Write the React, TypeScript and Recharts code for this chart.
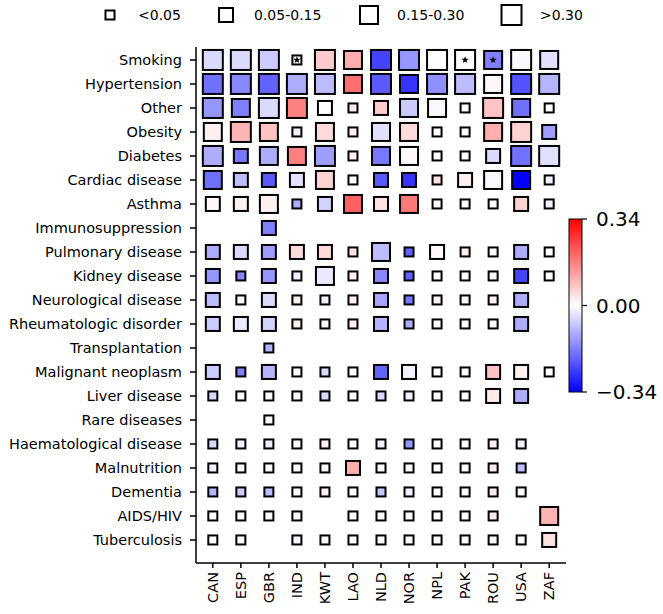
import React from "react";
import { ScatterChart, Scatter, XAxis, YAxis } from "recharts";

const countries = ["CAN", "ESP", "GBR", "IND", "KWT", "LAO", "NLD", "NOR", "NPL", "PAK", "ROU", "USA", "ZAF"];

const factors = [
  "Smoking", "Hypertension", "Other", "Obesity", "Diabetes", "Cardiac disease", "Asthma",
  "Immunosuppression", "Pulmonary disease", "Kidney disease", "Neurological disease",
  "Rheumatologic disorder", "Transplantation", "Malignant neoplasm", "Liver disease",
  "Rare diseases", "Haematological disease", "Malnutrition", "Dementia", "AIDS/HIV", "Tuberculosis",
];

const _ = null;

// colour value per factor (rows) and country (columns)
const values: (number | null)[][] = [
  [-0.05, -0.05, -0.07, 0, 0.07, 0.11, -0.25, -0.14, 0, 0, -0.17, -0.01, -0.04],
  [-0.19, -0.16, -0.21, -0.11, -0.09, 0.19, -0.22, -0.27, -0.15, -0.09, 0.01, -0.23, -0.1],
  [-0.14, -0.17, -0.05, 0.17, 0, 0.03, 0.07, -0.07, -0.01, 0, 0.08, -0.19, 0],
  [0.02, 0.1, 0.08, -0.02, 0.05, 0.02, -0.04, 0.05, 0, 0, 0.11, 0.06, -0.13],
  [-0.11, -0.18, -0.11, 0.17, -0.13, 0.02, -0.18, 0.01, 0, 0, -0.05, -0.19, -0.04],
  [-0.19, -0.09, -0.22, -0.04, 0.06, 0, -0.22, -0.27, 0.04, 0.02, -0.01, -0.34, -0.02],
  [0.01, 0.02, 0.02, -0.11, -0.06, 0.21, 0.04, 0.18, -0.01, 0, 0, 0.06, -0.02],
  [_, _, -0.17, _, _, _, _, _, _, _, _, _, _],
  [-0.11, -0.05, -0.13, 0.05, 0.05, 0.04, -0.09, -0.21, 0.01, 0.02, 0, -0.11, 0],
  [-0.14, -0.16, -0.14, -0.02, -0.03, 0.02, -0.16, -0.21, 0, 0, -0.01, -0.25, 0],
  [-0.09, -0.01, -0.05, 0.02, -0.02, 0.02, -0.12, -0.18, 0.02, -0.01, 0.02, -0.11, _],
  [-0.07, -0.03, -0.06, 0.02, 0.01, 0.02, -0.1, -0.11, 0.01, 0, 0.01, -0.11, _],
  [_, _, -0.1, _, _, _, _, _, _, _, _, _, _],
  [-0.07, -0.17, -0.1, 0, -0.05, 0, -0.21, -0.02, 0, 0, 0.08, 0.02, 0],
  [-0.05, 0, 0, 0, -0.05, 0, -0.05, -0.02, 0.01, 0, 0.03, -0.11, _],
  [_, _, 0.01, _, _, _, _, _, _, _, _, _, _],
  [-0.05, -0.02, -0.03, 0, 0.02, 0, -0.02, -0.14, 0, 0, 0.02, -0.02, _],
  [-0.02, 0.01, 0, 0, 0.01, 0.11, 0, 0, 0, 0, 0.03, -0.09, _],
  [-0.1, -0.07, -0.09, 0, 0.02, 0, -0.08, -0.02, 0, 0, 0.03, 0, _],
  [0, 0, 0, 0, _, 0, 0, 0, 0, 0, 0.03, _, 0.1],
  [0, 0, _, -0.01, 0.01, 0, 0, 0, -0.01, 0, -0.01, 0, 0.04],
];

// size class (index into sizeLabels) per cell
const sizeClass: number[][] = [
  [3, 3, 3, 0, 3, 2, 3, 3, 3, 3, 2, 3, 2],
  [3, 3, 3, 3, 3, 2, 3, 2, 3, 3, 2, 3, 3],
  [3, 2, 3, 3, 1, 0, 1, 2, 2, 0, 3, 2, 0],
  [2, 3, 2, 0, 2, 0, 2, 2, 0, 0, 2, 3, 1],
  [3, 1, 2, 2, 3, 0, 2, 2, 0, 0, 1, 3, 3],
  [2, 1, 1, 1, 2, 0, 1, 1, 0, 1, 2, 2, 0],
  [1, 1, 2, 0, 1, 2, 1, 2, 0, 0, 0, 1, 0],
  [0, 0, 1, 0, 0, 0, 0, 0, 0, 0, 0, 0, 0],
  [1, 1, 1, 1, 1, 0, 2, 0, 1, 0, 0, 1, 0],
  [1, 0, 1, 0, 2, 0, 1, 0, 0, 0, 0, 1, 0],
  [1, 0, 1, 0, 0, 0, 1, 0, 0, 0, 0, 1, 0],
  [1, 1, 1, 0, 0, 0, 1, 0, 0, 0, 0, 1, 0],
  [0, 0, 0, 0, 0, 0, 0, 0, 0, 0, 0, 0, 0],
  [1, 0, 1, 0, 0, 0, 1, 1, 0, 0, 1, 1, 0],
  [0, 0, 0, 0, 0, 0, 0, 0, 0, 0, 1, 1, 0],
  [0, 0, 0, 0, 0, 0, 0, 0, 0, 0, 0, 0, 0],
  [0, 0, 0, 0, 0, 0, 0, 0, 0, 0, 0, 0, 0],
  [0, 0, 0, 0, 0, 1, 0, 0, 0, 0, 0, 0, 0],
  [0, 0, 0, 0, 0, 0, 0, 0, 0, 0, 0, 0, 0],
  [0, 0, 0, 0, 0, 0, 0, 0, 0, 0, 0, 0, 2],
  [0, 0, 0, 0, 0, 0, 0, 0, 0, 0, 0, 0, 1],
];

const sizeLabels = ["<0.05", "0.05-0.15", "0.15-0.30", ">0.30"];
const starred = [["Smoking", "IND"], ["Smoking", "PAK"], ["Smoking", "ROU"]];
const vmax = 0.34;
const cbarTicks = [0.34, 0, -0.34];

const SIDES = [11, 16, 20, 22];
const FONT = "DejaVu Sans, sans-serif";

function bwr(v: number) {
  const t = Math.max(-1, Math.min(1, v / vmax));
  const r = t < 0 ? Math.round(255 * (1 + t)) : 255;
  const b = t > 0 ? Math.round(255 * (1 - t)) : 255;
  const g = Math.round(255 * (1 - Math.abs(t)));
  return `rgb(${r},${g},${b})`;
}

const cells = values.flatMap((row, ri) =>
  row.flatMap((v, ci) => (v === null ? [] : [{ x: ci, y: ri, v, s: sizeClass[ri][ci] }]))
);

const stars = starred.map(([f, c]) => ({ x: countries.indexOf(c), y: factors.indexOf(f) }));

function CellShape(props: any) {
  const { cx, cy, payload } = props;
  const side = SIDES[payload.s];
  return (
    <rect x={cx - side / 2 + 1} y={cy - side / 2 + 1} width={side - 2} height={side - 2}
      fill={bwr(payload.v)} stroke="#000" strokeWidth={2} />
  );
}

function StarShape(props: any) {
  const { cx, cy } = props;
  const pts: string[] = [];
  for (let i = 0; i < 10; i++) {
    const r = i % 2 === 0 ? 3.8 : 1.6;
    const a = -Math.PI / 2 + (i * Math.PI) / 5;
    pts.push(`${cx + r * Math.cos(a)},${cy + r * Math.sin(a)}`);
  }
  return <polygon points={pts.join(" ")} fill="#000" />;
}

function XTick(props: any) {
  const { x, y, payload } = props;
  return (
    <text x={x} y={y} transform={`rotate(-90 ${x} ${y})`} textAnchor="end" dominantBaseline="central"
      fontSize={14.5} fontFamily={FONT} fill="#000">
      {countries[payload.value]}
    </text>
  );
}

const axisStroke = { stroke: "#000", strokeWidth: 1.5 };

export default function App() {
  const legendX = [110, 226, 369, 511.5];
  const labelX = [138, 254, 397, 540];
  const cbTop = 219, cbBottom = 392;
  const oy = 190; // top of the colorbar overlay
  return (
    <div style={{ position: "absolute", left: 0, top: 0, width: 663, height: 614, background: "#fff" }}>
      <ScatterChart width={663} height={614} margin={{ top: 47, right: 97, bottom: 0, left: 0 }}>
        <XAxis type="number" dataKey="x" domain={[-0.6, 12.6]} ticks={countries.map((_, i) => i)}
          interval={0} height={51} tick={<XTick />} tickSize={5} tickMargin={4}
          axisLine={axisStroke} tickLine={axisStroke} allowDataOverflow />
        <YAxis type="number" dataKey="y" domain={[-0.54, 20.96]} reversed ticks={factors.map((_, i) => i)}
          interval={0} width={196} tickFormatter={(i: number) => factors[i]} tickSize={6} tickMargin={8}
          tick={{ fill: "#000", fontSize: 14.5, fontFamily: FONT }}
          axisLine={axisStroke} tickLine={axisStroke} allowDataOverflow />
        <Scatter data={cells} shape={<CellShape />} isAnimationActive={false} />
        <Scatter data={stars} shape={<StarShape />} isAnimationActive={false} />
      </ScatterChart>

      <svg width={663} height={34} style={{ position: "absolute", left: 0, top: 0 }}>
        {sizeLabels.map((lab, i) => (
          <g key={lab}>
            <rect x={legendX[i] - SIDES[i] / 2 + 1} y={15 - SIDES[i] / 2 + 1} width={SIDES[i] - 2}
              height={SIDES[i] - 2} fill="#fff" stroke="#000" strokeWidth={2} />
            <text x={labelX[i]} y={15} dominantBaseline="central" fontSize={14} fontFamily={FONT} fill="#000">
              {lab}
            </text>
          </g>
        ))}
      </svg>

      <svg width={100} height={240} style={{ position: "absolute", left: 563, top: oy }}>
        <defs>
          <linearGradient id="bwr" x1="0" y1="0" x2="0" y2="1">
            <stop offset="0%" stopColor={bwr(vmax)} />
            <stop offset="50%" stopColor={bwr(0)} />
            <stop offset="100%" stopColor={bwr(-vmax)} />
          </linearGradient>
        </defs>
        <rect x={6} y={cbTop - oy} width={13} height={cbBottom - cbTop} fill="url(#bwr)" stroke="#000" strokeWidth={1} />
        {cbarTicks.map((t) => {
          const y = cbTop - oy + ((vmax - t) / (2 * vmax)) * (cbBottom - cbTop);
          return (
            <g key={t}>
              <line x1={19} x2={24} y1={y} y2={y} stroke="#000" strokeWidth={1.2} />
              <text x={33} y={y} dominantBaseline="central" fontSize={20} fontFamily={FONT} fill="#000">
                {t < 0 ? "\u2212" + Math.abs(t).toFixed(2) : t.toFixed(2)}
              </text>
            </g>
          );
        })}
      </svg>
    </div>
  );
}
